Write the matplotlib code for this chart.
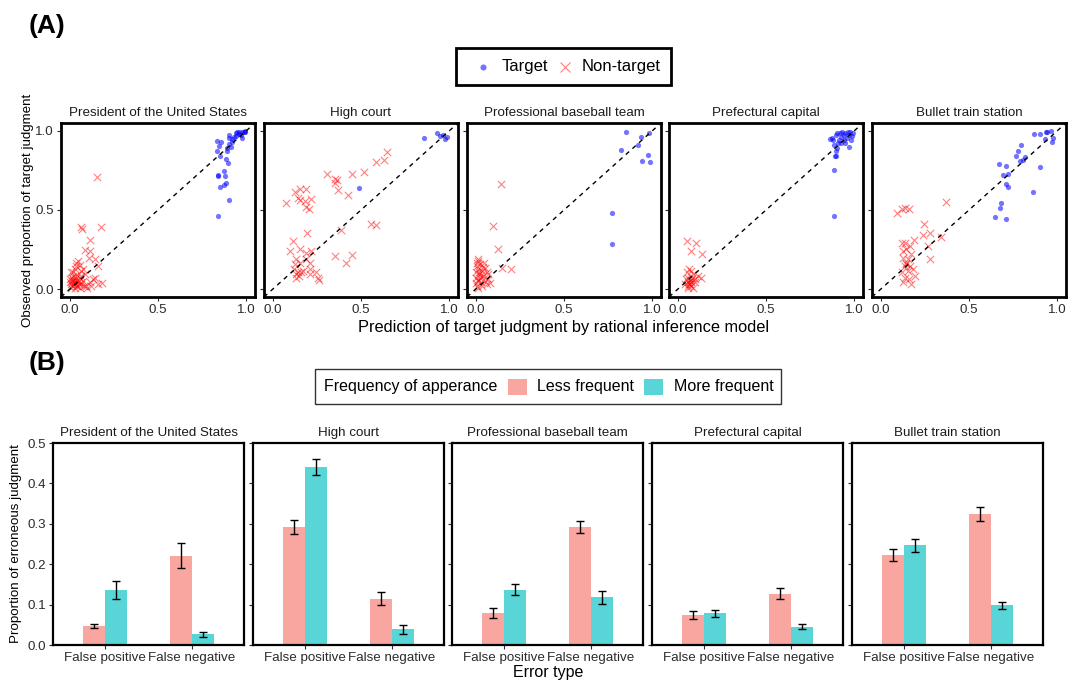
import matplotlib
matplotlib.use('Agg')
import matplotlib.pyplot as plt
from matplotlib.patches import Rectangle
from matplotlib.lines import Line2D
import numpy as np

plt.rcParams['font.family'] = ['Liberation Sans', 'DejaVu Sans']

# ---------------- DATA ----------------
categories = ["President of the United States", "High court",
              "Professional baseball team", "Prefectural capital",
              "Bullet train station"]
error_types = ["False positive", "False negative"]
legend_a = ["Target", "Non-target"]
legend_b_title = "Frequency of apperance"
legend_b = ["Less frequent", "More frequent"]

# Panel A : (model prediction, observed proportion)
pres_target_x = [0.838, 0.90, 0.851, 0.877, 0.885, 0.838, 0.84, 0.875, 0.88, 0.896,
                 0.885, 0.832, 0.851, 0.834, 0.857, 0.847, 0.89, 0.89, 0.90, 0.903,
                 0.916, 0.922, 0.931, 0.944, 0.959, 0.978, 0.993, 0.968, 0.974, 0.95,
                 0.996, 0.96, 0.985, 0.94, 0.92, 0.905]
pres_target_y = [0.459, 0.566, 0.646, 0.656, 0.67, 0.713, 0.72, 0.744, 0.717, 0.797,
                 0.824, 0.87, 0.839, 0.935, 0.933, 0.906, 0.87, 0.89, 0.92, 0.954,
                 0.897, 0.933, 0.964, 0.985, 0.996, 0.99, 1.0, 0.975, 0.954, 0.996,
                 0.99, 0.98, 0.995, 0.97, 0.95, 0.975]
pres_nontarget_x = [0.153, 0.177, 0.061, 0.069, 0.112, 0.084, 0.117, 0.106, 0.140, 0.158,
                    0.047, 0.037, 0.056, 0.028, 0.074, 0.009, 0.019, 0.043, 0.065, 0.0,
                    0.013, 0.032, 0.05, 0.074, 0.006, 0.024, 0.043, 0.061, 0.093, 0.117,
                    0.130, 0.140, 0.158, 0.181, 0.099, 0.009, 0.028, 0.056, 0.084, 0.019,
                    0.065, 0.037, 0.013, 0.0, 0.08, 0.121,
                    0.02, 0.03, 0.04, 0.03, 0.05, 0.02, 0.035, 0.045, 0.01, 0.06]
pres_nontarget_y = [0.709, 0.392, 0.392, 0.377, 0.310, 0.245, 0.241, 0.199, 0.189, 0.147,
                    0.178, 0.168, 0.151, 0.126, 0.126, 0.109, 0.084, 0.088, 0.084, 0.063,
                    0.052, 0.059, 0.052, 0.052, 0.031, 0.025, 0.021, 0.031, 0.021, 0.042,
                    0.063, 0.069, 0.031, 0.038, 0.010, 0.010, 0.042, 0.073, 0.094, 0.105,
                    0.115, 0.147, 0.073, 0.042, 0.017, 0.021,
                    0.03, 0.04, 0.02, 0.01, 0.035, 0.06, 0.07, 0.045, 0.02, 0.01]

court_target_x = [0.858, 0.932, 0.95, 0.963, 0.978, 0.987, 0.488]
court_target_y = [0.954, 0.985, 0.969, 0.975, 0.948, 0.964, 0.637]
court_nontarget_x = [0.65, 0.628, 0.586, 0.517, 0.448, 0.309, 0.352, 0.365, 0.355, 0.370,
                     0.425, 0.074, 0.125, 0.153, 0.19, 0.144, 0.153, 0.18, 0.217, 0.19,
                     0.204, 0.193, 0.389, 0.554, 0.586, 0.098, 0.116, 0.153, 0.19, 0.217,
                     0.134, 0.153, 0.125, 0.144, 0.134, 0.162, 0.171, 0.208, 0.245, 0.254,
                     0.263, 0.355, 0.414, 0.451, 0.131, 0.19, 0.208, 0.122, 0.149, 0.208]
court_nontarget_y = [0.864, 0.813, 0.801, 0.738, 0.730, 0.727, 0.696, 0.688, 0.671, 0.629,
                     0.597, 0.545, 0.612, 0.633, 0.633, 0.577, 0.566, 0.556, 0.570, 0.52,
                     0.509, 0.356, 0.373, 0.409, 0.403, 0.241, 0.304, 0.256, 0.231, 0.241,
                     0.189, 0.168, 0.157, 0.109, 0.094, 0.105, 0.115, 0.126, 0.105, 0.073,
                     0.059, 0.21, 0.168, 0.216, 0.073, 0.189, 0.168, 0.126, 0.084, 0.094]

base_target_x = [0.854, 0.938, 0.981, 0.826, 0.922, 0.976, 0.944, 0.989, 0.771, 0.771]
base_target_y = [0.992, 0.964, 0.985, 0.881, 0.908, 0.849, 0.811, 0.803, 0.482, 0.283]
base_nontarget_x = [0.142, 0.099, 0.123, 0.151, 0.198,
                    0.006, 0.015, 0.024, 0.011, 0.034, 0.052, 0.062, 0.043, 0.071, 0.0,
                    0.015, 0.030, 0.006, 0.019, 0.049, 0.006, 0.0, 0.024, 0.052, 0.071,
                    0.015, 0.003, 0.034, 0.062, 0.08, 0.01, 0.02, 0.03, 0.04, 0.01]
base_nontarget_y = [0.665, 0.398, 0.256, 0.136, 0.126,
                    0.168, 0.178, 0.157, 0.126, 0.115, 0.136, 0.105, 0.084, 0.063, 0.073,
                    0.052, 0.042, 0.021, 0.094, 0.168, 0.147, 0.105, 0.073, 0.052, 0.094,
                    0.01, 0.04, 0.02, 0.03, 0.04, 0.06, 0.11, 0.09, 0.14, 0.19]

pref_target_x = [0.886, 0.888,
                 0.862, 0.882, 0.895, 0.904, 0.919, 0.928, 0.915, 0.886, 0.895, 0.892,
                 0.904, 0.923, 0.941, 0.950, 0.960, 0.969, 0.978, 0.987, 0.980, 0.969,
                 0.950, 0.941, 0.996, 0.910, 0.877, 0.932, 0.963, 0.895]
pref_target_y = [0.755, 0.463,
                 0.948, 0.943, 0.975, 0.985, 0.985, 0.964, 0.943, 0.912, 0.870, 0.839,
                 0.891, 0.922, 0.975, 0.985, 0.954, 0.975, 0.990, 0.969, 0.943, 0.897,
                 0.922, 0.943, 0.985, 0.922, 0.954, 0.996, 0.99, 0.839]
pref_nontarget_x = [0.05, 0.101, 0.074, 0.136, 0.0625, 0.074, 0.05, 0.086, 0.114, 0.132,
                    0.059, 0.068, 0.077, 0.055, 0.086, 0.04, 0.096, 0.059, 0.074, 0.044,
                    0.096, 0.081, 0.065, 0.07, 0.06, 0.075]
pref_nontarget_y = [0.304, 0.289, 0.241, 0.22, 0.126, 0.115, 0.105, 0.094, 0.084, 0.073,
                    0.073, 0.052, 0.042, 0.021, 0.01, 0.031, 0.042, 0.004, 0.021, 0.063,
                    0.063, 0.073, 0.035, 0.03, 0.045, 0.06]

train_target_x = [0.870, 0.9, 0.937, 0.944, 0.965, 0.931, 0.969, 0.978, 0.796, 0.78,
                  0.769, 0.817, 0.789, 0.805, 0.902, 0.669, 0.709, 0.693, 0.722, 0.711,
                  0.722, 0.865, 0.681, 0.678, 0.65, 0.709]
train_target_y = [0.979, 0.979, 0.99, 0.992, 1.0, 0.948, 0.933, 0.954, 0.908, 0.87,
                  0.843, 0.834, 0.807, 0.813, 0.774, 0.788, 0.780, 0.719, 0.730, 0.667,
                  0.646, 0.614, 0.545, 0.514, 0.457, 0.44]
train_nontarget_x = [0.372, 0.089, 0.122, 0.139, 0.157, 0.243, 0.237, 0.278, 0.269, 0.28,
                     0.339, 0.187, 0.120, 0.135, 0.163, 0.126, 0.144, 0.172, 0.126, 0.154,
                     0.144, 0.135, 0.163, 0.181, 0.191, 0.122, 0.135, 0.126, 0.159, 0.172,
                     0.154, 0.141]
train_nontarget_y = [0.551, 0.478, 0.509, 0.512, 0.509, 0.409, 0.340, 0.356, 0.273, 0.189,
                     0.331, 0.310, 0.294, 0.289, 0.273, 0.241, 0.252, 0.220, 0.199, 0.189,
                     0.157, 0.147, 0.143, 0.126, 0.084, 0.105, 0.073, 0.042, 0.063, 0.031,
                     0.115, 0.168]

# Panel B : proportion of erroneous judgment (mean, SE), per category
less_fp = [0.047, 0.292, 0.080, 0.075, 0.223]
less_fp_se = [0.005, 0.018, 0.012, 0.010, 0.015]
more_fp = [0.137, 0.441, 0.137, 0.078, 0.247]
more_fp_se = [0.022, 0.019, 0.014, 0.009, 0.016]
less_fn = [0.221, 0.114, 0.292, 0.127, 0.324]
less_fn_se = [0.031, 0.016, 0.014, 0.013, 0.017]
more_fn = [0.027, 0.039, 0.118, 0.045, 0.098]
more_fn_se = [0.006, 0.011, 0.016, 0.006, 0.009]

# ---------------- FIGURE ----------------
W, H = 1070, 680
fig = plt.figure(figsize=(W / 100, H / 100), dpi=100)

def px_axes(l, t, w, h):
    return fig.add_axes([l / W, 1 - (t + h) / H, w / W, h / H])

def fx(x):
    return x / W

def fy(y):
    return 1 - y / H

TICK_COL = '#2B2B2B'
STRIP_COL = '#1A1A1A'
RED = '#FF0000'
BLUE = '#0000FF'
PINK = '#F8766D'
TEAL = '#00BFC4'

scatter_sets = [
    (pres_target_x, pres_target_y, pres_nontarget_x, pres_nontarget_y),
    (court_target_x, court_target_y, court_nontarget_x, court_nontarget_y),
    (base_target_x, base_target_y, base_nontarget_x, base_nontarget_y),
    (pref_target_x, pref_target_y, pref_nontarget_x, pref_nontarget_y),
    (train_target_x, train_target_y, train_nontarget_x, train_nontarget_y),
]

a_left = [61, 264, 467, 669, 872]
for i, cat in enumerate(categories):
    ax = px_axes(a_left[i], 123, 194, 174)
    tx, ty, nx, ny = scatter_sets[i]
    ax.scatter(nx, ny, marker='x', s=28, c=RED, alpha=0.5, linewidths=0.8, zorder=2)
    ax.scatter(tx, ty, marker='o', s=14, c=BLUE, alpha=0.55, linewidths=0, zorder=2)
    ax.axline((0, 0), (1, 1), color='black', ls=(0, (3.2, 3.2)), lw=1.0, zorder=3)
    ax.set_xlim(-0.05, 1.05)
    ax.set_ylim(-0.05, 1.05)
    ax.set_xticks([0, 0.5, 1.0])
    ax.set_xticklabels(['0.0', '0.5', '1.0'])
    ax.set_yticks([0, 0.5, 1.0])
    if i == 0:
        ax.set_yticklabels(['0.0', '0.5', '1.0'])
    else:
        ax.set_yticklabels([])
        ax.tick_params(axis='y', length=0)
    ax.tick_params(direction='out', length=3, width=0.8, color=TICK_COL,
                   labelsize=9.6, labelcolor=TICK_COL, pad=2)
    for s in ax.spines.values():
        s.set_linewidth(2.0)
        s.set_color('black')
    ax.set_title(cat, fontsize=9.6, color=STRIP_COL, pad=5)

b_left = [53, 253, 452, 652, 852]
x_pos = np.arange(1, len(error_types) + 1)
bw = 0.25
for i, cat in enumerate(categories):
    ax = px_axes(b_left[i], 443, 191, 202)
    less_vals = [less_fp[i], less_fn[i]]
    less_errs = [less_fp_se[i], less_fn_se[i]]
    more_vals = [more_fp[i], more_fn[i]]
    more_errs = [more_fp_se[i], more_fn_se[i]]
    ax.bar(x_pos - bw / 2, less_vals, width=bw, color=PINK, alpha=0.65, zorder=1)
    ax.bar(x_pos + bw / 2, more_vals, width=bw, color=TEAL, alpha=0.65, zorder=1)
    ax.errorbar(x_pos - bw / 2, less_vals, yerr=less_errs, fmt='none',
                ecolor='black', elinewidth=1.0, capsize=3.1, capthick=1.0, zorder=3)
    ax.errorbar(x_pos + bw / 2, more_vals, yerr=more_errs, fmt='none',
                ecolor='black', elinewidth=1.0, capsize=3.1, capthick=1.0, zorder=3)
    ax.set_xlim(0.4, 2.6)
    ax.set_ylim(0, 0.5)
    ax.set_xticks(x_pos)
    ax.set_xticklabels(error_types)
    ax.set_yticks([0, 0.1, 0.2, 0.3, 0.4, 0.5])
    if i == 0:
        ax.set_yticklabels(['0.0', '0.1', '0.2', '0.3', '0.4', '0.5'])
    else:
        ax.set_yticklabels([])
        ax.tick_params(axis='y', length=0)
    ax.tick_params(direction='out', length=3, width=0.8, color=TICK_COL,
                   labelsize=9.6, labelcolor=TICK_COL, pad=2)
    for s in ax.spines.values():
        s.set_linewidth(1.6)
        s.set_color('black')
    ax.set_title(cat, fontsize=9.6, color=STRIP_COL, pad=5)

# Axis titles
fig.text(fx(28), fy(210), "Observed proportion of target judgment", rotation=90,
         ha='center', va='center', fontsize=9.6)
fig.text(fx(563.5), fy(327), "Prediction of target judgment by rational inference model",
         ha='center', va='center', fontsize=11.8)
fig.text(fx(16.5), fy(544), "Proportion of erroneous judgment", rotation=90,
         ha='center', va='center', fontsize=9.6)
fig.text(fx(548), fy(673), "Error type", ha='center', va='center', fontsize=11.5)

# Panel letters
fig.text(fx(29), fy(26), "(A)", ha='left', va='center', fontsize=19, fontweight='bold')
fig.text(fx(29), fy(363), "(B)", ha='left', va='center', fontsize=19, fontweight='bold')

# Legend A (manual)
fig.add_artist(Rectangle((fx(456), fy(85)), fx(671) - fx(456), fy(48) - fy(85),
                         transform=fig.transFigure, fill=False, lw=2.0, ec='black'))
fig.add_artist(Line2D([fx(483)], [fy(66.5)], transform=fig.transFigure, marker='o',
                      markersize=4.4, markerfacecolor=BLUE, markeredgewidth=0,
                      alpha=0.55, linestyle='none'))
fig.text(fx(502), fy(66.5), legend_a[0], ha='left', va='center', fontsize=12)
fig.add_artist(Line2D([fx(565)], [fy(66.5)], transform=fig.transFigure, marker='x',
                      markersize=6.5, markeredgecolor=RED, markeredgewidth=0.8,
                      alpha=0.5, linestyle='none'))
fig.text(fx(582), fy(66.5), legend_a[1], ha='left', va='center', fontsize=12)

# Legend B (manual)
fig.add_artist(Rectangle((fx(315), fy(404)), fx(781) - fx(315), fy(369) - fy(404),
                         transform=fig.transFigure, fill=False, lw=1.0, ec='#333333'))
fig.text(fx(324), fy(386.5), legend_b_title, ha='left', va='center', fontsize=11.5)
fig.add_artist(Rectangle((fx(508), fy(394.5)), fx(527) - fx(508), fy(378.5) - fy(394.5),
                         transform=fig.transFigure, fc=PINK, alpha=0.65, lw=0))
fig.text(fx(537), fy(386.5), legend_b[0], ha='left', va='center', fontsize=11.5)
fig.add_artist(Rectangle((fx(644), fy(394.5)), fx(663) - fx(644), fy(378.5) - fy(394.5),
                         transform=fig.transFigure, fc=TEAL, alpha=0.65, lw=0))
fig.text(fx(674), fy(386.5), legend_b[1], ha='left', va='center', fontsize=11.5)

fig.savefig('out.png', dpi=100)
